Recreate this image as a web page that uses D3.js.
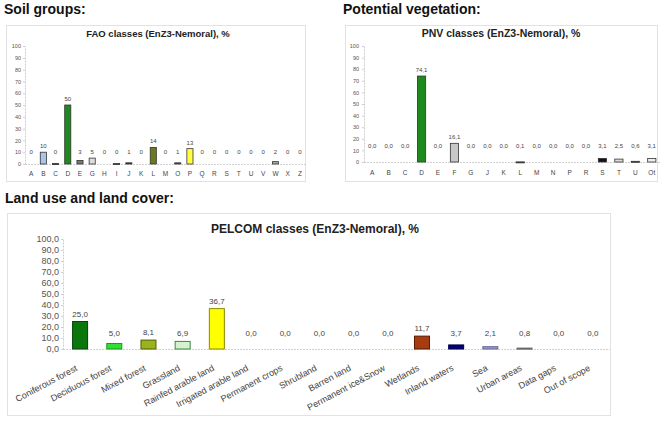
<!DOCTYPE html>
<html>
<head>
<meta charset="utf-8">
<script src="https://cdn.jsdelivr.net/npm/d3@7"></script>
<style>
  body { margin: 0; background: #fff; }
  svg { display: block; font-family: "Liberation Sans", Arial, sans-serif; }
</style>
</head>
<body>
<svg id="chart" width="670" height="423"></svg>
<script>
// ---- data ----
const soilClasses = ['A','B','C','D','E','G','H','I','J','K','L','M','O','P','Q','R','S','T','U','V','W','X','Z'];
const soilValues  = [0, 10, 0.4, 50, 3, 5, 0, 0.4, 1, 0, 14, 0, 1, 13, 0, 0, 0, 0, 0, 0, 2, 0, 0];
const soilColors  = ['#e8a040','#a9c6e6','#222222','#1e8a1e','#777777','#dddddd','#cccccc','#333333','#333333','#cccccc',
                     '#6b7a22','#cccccc','#555555','#ffff44','#cccccc','#cccccc','#cccccc','#cccccc','#cccccc','#cccccc',
                     '#aaaaaa','#cccccc','#cccccc'];

const pnvClasses = ['A','B','C','D','E','F','G','J','K','L','M','N','P','R','S','T','U','Ot'];
const pnvValues  = [0.0, 0.0, 0.0, 74.1, 0.0, 16.1, 0.0, 0.0, 0.0, 0.1, 0.0, 0.0, 0.0, 0.0, 3.1, 2.5, 0.6, 3.1];
const pnvColors  = ['#ccc','#ccc','#ccc','#1e8a1e','#ccc','#c8c8c8','#ccc','#ccc','#ccc','#444','#ccc','#ccc','#ccc','#ccc',
                    '#111122','#dddddd','#555555','#eeeeee'];

const pelcomClasses = ['Coniferous forest','Deciduous forest','Mixed forest','Grassland','Rainfed arable land',
                       'Irrigated arable land','Permanent crops','Shrubland','Barren land','Permanent ice&Snow',
                       'Wetlands','Inland waters','Sea','Urban areas','Data gaps','Out of scope'];
const pelcomValues  = [25.0, 5.0, 8.1, 6.9, 36.7, 0.0, 0.0, 0.0, 0.0, 0.0, 11.7, 3.7, 2.1, 0.8, 0.0, 0.0];
const pelcomColors  = ['#0b760b','#33dd33','#99b31c','#d6f0d2','#ffff00','#ccc','#ccc','#ccc','#ccc','#ccc',
                       '#a63c10','#000080','#9b9bcc','#999999','#ccc','#ccc'];
const pelcomStrokes = ['#064406','#1a991a','#4f5f00','#3a8a3a','#8a8a00','#999','#999','#999','#999','#999',
                       '#5a1a00','#000040','#666699','#666666','#999','#999'];

const yTicks = [0, 10, 20, 30, 40, 50, 60, 70, 80, 90, 100];

const svg = d3.select('#chart');
const comma = d3.formatLocale({ decimal: ',', thousands: ' ', grouping: [3], currency: ['', ''] });

// section headings
const headings = [
  { text: 'Soil groups:', x: 4, y: 14 },
  { text: 'Potential vegetation:', x: 343, y: 14 },
  { text: 'Land use and land cover:', x: 5, y: 203 }
];
svg.selectAll('text.heading')
  .data(headings)
  .join('text')
  .attr('class', 'heading')
  .attr('x', d => d.x)
  .attr('y', d => d.y)
  .attr('font-size', '14px')
  .attr('font-weight', 'bold')
  .attr('fill', '#111')
  .text(d => d.text);

function drawChart(opt) {
  const g = svg.append('g');

  // panel frame
  g.append('rect')
    .attr('x', opt.frame[0] + 0.5).attr('y', opt.frame[1] + 0.5)
    .attr('width', opt.frame[2] - opt.frame[0]).attr('height', opt.frame[3] - opt.frame[1])
    .attr('fill', '#fff').attr('stroke', '#e2e2e2');

  g.append('text')
    .attr('x', opt.titleX).attr('y', opt.titleY)
    .attr('text-anchor', 'middle')
    .attr('font-size', opt.titleSize)
    .attr('font-weight', 'bold')
    .attr('fill', '#222')
    .text(opt.title);

  const x = d3.scaleBand()
    .domain(opt.classes)
    .range(opt.xRange)
    .paddingInner(opt.pad)
    .paddingOuter(opt.pad / 2);
  const y = d3.scaleLinear().domain([0, 100]).range(opt.yRange);

  // y axis
  const yAxis = d3.axisLeft(y)
    .tickValues(yTicks)
    .tickSizeInner(2)
    .tickSizeOuter(0)
    .tickPadding(opt.tickPad)
    .tickFormat(opt.yFormat);
  const ax = g.append('g')
    .attr('transform', `translate(${opt.xRange[0]}, 0)`)
    .call(yAxis);
  ax.select('.domain').attr('stroke', '#cfcfcf').attr('stroke-dasharray', '2,1');
  ax.selectAll('.tick line').attr('stroke', '#cfcfcf');
  ax.selectAll('.tick text')
    .attr('font-size', opt.yFontSize)
    .attr('fill', '#555')
    .attr('font-family', null);

  // baseline
  g.append('line')
    .attr('x1', opt.xRange[0]).attr('x2', opt.xRange[1])
    .attr('y1', y(0) + 0.5).attr('y2', y(0) + 0.5)
    .attr('stroke', '#d0d0d0')
    .attr('stroke-dasharray', '2,1');

  const data = opt.classes.map((c, i) => ({ c, v: opt.values[i], fill: opt.colors[i], stroke: opt.strokes ? opt.strokes[i] : '#333' }));

  const bw = opt.barWidth || x.bandwidth();
  g.selectAll('rect.bar')
    .data(data.filter(d => d.v > 0))
    .join('rect')
    .attr('class', 'bar')
    .attr('x', d => x(d.c) + x.bandwidth() / 2 - bw / 2)
    .attr('y', d => y(d.v))
    .attr('width', bw)
    .attr('height', d => Math.max(1, y(0) - y(d.v)))
    .attr('fill', d => d.fill)
    .attr('stroke', d => d.stroke)
    .attr('stroke-width', opt.strokeWidth);

  // value labels
  g.selectAll('text.val')
    .data(data)
    .join('text')
    .attr('class', 'val')
    .attr('x', d => x(d.c) + x.bandwidth() / 2)
    .attr('y', d => Math.min(y(d.v), y(0) - opt.minLift) - opt.labelGap)
    .attr('text-anchor', 'middle')
    .attr('font-size', opt.valFontSize)
    .attr('fill', '#444')
    .text(d => opt.valFormat(d.v));

  // category labels
  const cats = g.selectAll('text.cat')
    .data(opt.classes)
    .join('text')
    .attr('class', 'cat')
    .attr('font-size', opt.catFontSize)
    .attr('fill', '#444')
    .text(d => d);
  if (opt.rotate) {
    cats.attr('text-anchor', 'end')
      .attr('transform', d => `translate(${x(d) + x.bandwidth() / 2 - 2}, ${y(0) + opt.catOffset}) rotate(${opt.rotate})`);
  } else {
    cats.attr('text-anchor', 'middle')
      .attr('x', d => x(d) + x.bandwidth() / 2)
      .attr('y', y(0) + opt.catOffset);
  }
}

drawChart({
  frame: [6, 25, 305, 181],
  title: 'FAO classes (EnZ3-Nemoral), %', titleX: 158, titleY: 37, titleSize: '9.5px',
  classes: soilClasses, values: soilValues, colors: soilColors,
  xRange: [25, 306], pad: 0.5, yRange: [164, 46],
  tickPad: 2, yFontSize: '5.5px', yFormat: d3.format('d'),
  valFontSize: '6px', valFormat: d3.format('.0f'), labelGap: 4, minLift: 6,
  catFontSize: '6.5px', catOffset: 12, strokeWidth: 0.8
});

drawChart({
  frame: [345, 25, 657, 181],
  title: 'PNV classes (EnZ3-Nemoral), %', titleX: 501, titleY: 37, titleSize: '10.5px',
  classes: pnvClasses, values: pnvValues, colors: pnvColors,
  xRange: [364, 660], pad: 0.5, yRange: [162, 46],
  tickPad: 3, yFontSize: '5.5px', yFormat: d3.format('d'),
  valFontSize: '6px', valFormat: comma.format('.1f'), labelGap: 4, minLift: 10,
  catFontSize: '6.5px', catOffset: 13, strokeWidth: 0.8
});

drawChart({
  frame: [7, 213, 610, 415],
  title: 'PELCOM classes (EnZ3-Nemoral), %', titleX: 315, titleY: 233, titleSize: '12px',
  classes: pelcomClasses, values: pelcomValues, colors: pelcomColors, strokes: pelcomStrokes,
  xRange: [63, 610], pad: 0.56, yRange: [349, 239],
  tickPad: 2, yFontSize: '9px', yFormat: comma.format('.1f'),
  valFontSize: '8px', valFormat: comma.format('.1f'), labelGap: 5, minLift: 8,
  catFontSize: '9px', catOffset: 21, strokeWidth: 1, barWidth: 15,
  rotate: -28
});
</script>
</body>
</html>
